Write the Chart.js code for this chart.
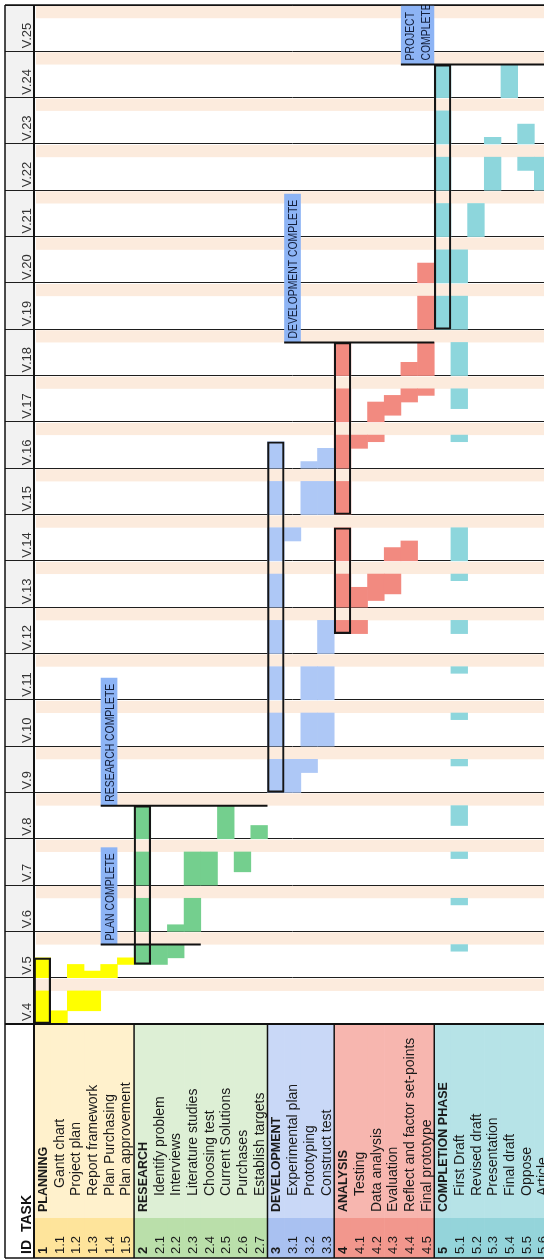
<!DOCTYPE html>
<html>
<head>
<meta charset="utf-8">
<title>Project Gantt chart</title>
<script src="https://cdn.jsdelivr.net/npm/chart.js@4.4.1/dist/chart.umd.min.js"></script>
<style>
  html, body { margin: 0; padding: 0; background: #fff; overflow: hidden; width: 544px; height: 1260px; }
  canvas { display: block; }
</style>
</head>
<body>
<canvas id="gantt" width="551" height="1260" style="width:551px;height:1260px"></canvas>
<script>
// ---- tasks (one column per task) ----
const taskIds = ['1', '1.1', '1.2', '1.3', '1.4', '1.5',
  '2', '2.1', '2.2', '2.3', '2.4', '2.5', '2.6', '2.7',
  '3', '3.1', '3.2', '3.3',
  '4', '4.1', '4.2', '4.3', '4.4', '4.5',
  '5', '5.1', '5.2', '5.3', '5.4', '5.5', '5.6'];
const taskNames = ['PLANNING', 'Gantt chart', 'Project plan', 'Report framework', 'Plan Purchasing', 'Plan approvement',
  'RESEARCH', 'Identify problem', 'Interviews', 'Literature studies', 'Choosing test', 'Current Solutions', 'Purchases', 'Establish targets',
  'DEVELOPMENT', 'Experimental plan', 'Prototyping', 'Construct test',
  'ANALYSIS', 'Testing', 'Data analysis', 'Evaluation', 'Reflect and factor set-points', 'Final prototype',
  'COMPLETION PHASE', 'First Draft', 'Revised draft', 'Presentation', 'Final draft', 'Oppose', 'Article'];

// ---- calendar weeks (time runs upwards) ----
const weekLabels = ['V.4', 'V.5', 'V.6', 'V.7', 'V.8', 'V.9', 'V.10', 'V.11', 'V.12', 'V.13', 'V.14',
  'V.15', 'V.16', 'V.17', 'V.18', 'V.19', 'V.20', 'V.21', 'V.22', 'V.23', 'V.24', 'V.25'];

// ---- work periods: [task, week, first weekday, last weekday]  (1 = Mon ... 5 = Fri) ----
const planningWork = [
  ['1.1', 4, 1, 2],
  ['1.2', 4, 3, 5], ['1.2', 5, 1, 2],
  ['1.3', 4, 3, 5], ['1.3', 5, 1, 1],
  ['1.4', 5, 1, 2],
  ['1.5', 5, 3, 3]
];
const researchWork = [
  ['2.1', 5, 3, 5],
  ['2.2', 5, 4, 5], ['2.2', 6, 1, 1],
  ['2.3', 6, 1, 5], ['2.3', 7, 1, 5],
  ['2.4', 7, 1, 5],
  ['2.5', 8, 1, 5],
  ['2.6', 7, 3, 5],
  ['2.7', 8, 1, 2]
];
const developmentWork = [
  ['3.1', 9, 1, 5], ['3.1', 14, 4, 5],
  ['3.2', 9, 4, 5], ['3.2', 10, 1, 5], ['3.2', 11, 1, 5], ['3.2', 15, 1, 5], ['3.2', 16, 1, 1],
  ['3.3', 10, 1, 5], ['3.3', 11, 1, 5], ['3.3', 12, 1, 5], ['3.3', 15, 1, 5], ['3.3', 16, 1, 3]
];
const analysisWork = [
  ['4.1', 12, 4, 5], ['4.1', 13, 1, 3], ['4.1', 16, 4, 5],
  ['4.2', 13, 2, 5], ['4.2', 16, 5, 5], ['4.2', 17, 1, 3],
  ['4.3', 13, 3, 5], ['4.3', 14, 1, 2], ['4.3', 17, 2, 4],
  ['4.4', 14, 1, 3], ['4.4', 17, 4, 5], ['4.4', 18, 1, 2],
  ['4.5', 17, 5, 5], ['4.5', 18, 1, 5], ['4.5', 19, 1, 5], ['4.5', 20, 1, 3]
];
const completionWork = [
  ['5.1', 5, 5, 5], ['5.1', 6, 5, 5], ['5.1', 7, 5, 5], ['5.1', 8, 3, 5], ['5.1', 9, 5, 5],
  ['5.1', 10, 5, 5], ['5.1', 11, 5, 5], ['5.1', 12, 4, 5], ['5.1', 13, 5, 5], ['5.1', 14, 1, 5],
  ['5.1', 16, 5, 5], ['5.1', 17, 3, 5], ['5.1', 18, 1, 5], ['5.1', 19, 1, 5], ['5.1', 20, 1, 5],
  ['5.2', 21, 1, 5],
  ['5.3', 22, 1, 5], ['5.3', 23, 1, 1],
  ['5.4', 24, 1, 5],
  ['5.5', 22, 4, 5], ['5.5', 23, 1, 3],
  ['5.6', 22, 1, 5]
];

// ---- phase summary spans: [phase, start week, start day, end week, end day] ----
const phaseSpans = [
  ['1', 4, 1, 5, 3],
  ['2', 5, 3, 8, 5],
  ['3', 9, 1, 16, 4],
  ['4', 12, 4, 14, 5],
  ['4', 15, 1, 18, 5],
  ['5', 19, 1, 24, 5]
];

// ---- milestones: [label lines, week (end of Friday), first task, last task under the line] ----
const milestones = [
  [['PLAN COMPLETE'], 5, '1.4', '2.3'],
  [['RESEARCH COMPLETE'], 8, '1.4', '2.7'],
  [['DEVELOPMENT COMPLETE'], 18, '3.1', '4.5'],
  [['PROJECT', 'COMPLETE'], 24, '4.4', '5.6']
];

// ---- styling ----
const phaseWork = [planningWork, researchWork, developmentWork, analysisWork, completionWork];
const barColors = ['#FFFF00', '#74CF8E', '#AEC8F6', '#F28A80', '#8DD6DC'];
const headFill = ['#FFF1CC', '#DDEFD5', '#C9D8F7', '#F7B6AF', '#B6E3E7'];
const idFill = ['#FEE49B', '#BADFAA', '#A9C1F1', '#F2978D', '#94D4DA'];
const FONT = "'Liberation Sans', Arial, sans-serif";

const firstWeek = parseInt(weekLabels[0].slice(2), 10);
const dayAt = (week, day) => (week - firstWeek) * 7 + day;
const workBar = ([id, week, from, to]) => ({ x: id, y: [dayAt(week, from - 1), dayAt(week, to)] });
const phaseOf = id => parseInt(id, 10) - 1;

// summary bars are filled on working days only
function phaseFill(span) {
  const [id, sw, sd, ew, ed] = span;
  const out = [];
  for (let w = sw; w <= ew; w++) {
    out.push(workBar([id, w, w === sw ? sd : 1, w === ew ? ed : 5]));
  }
  return out;
}

const datasets = [{
  label: 'phase outline',
  data: phaseSpans.map(([id, sw, sd, ew, ed]) => ({ x: id, y: [dayAt(sw, sd - 1), dayAt(ew, ed)] })),
  backgroundColor: 'rgba(0,0,0,0)',
  borderColor: '#151515',
  borderWidth: 1.5,
  borderSkipped: false
}];
phaseWork.forEach((list, p) => {
  const summary = phaseSpans.filter(s => phaseOf(s[0]) === p).flatMap(phaseFill);
  datasets.push({
    label: taskNames[taskIds.indexOf(String(p + 1))],
    data: summary.concat(list.map(workBar)),
    backgroundColor: barColors[p],
    borderWidth: 0
  });
});
datasets.forEach(d => Object.assign(d, { grouped: false, barPercentage: 1, categoryPercentage: 1 }));

function upText(ctx, text, baseX, startY, font, color, squeeze) {
  ctx.save();
  ctx.translate(baseX, startY);
  ctx.rotate(-Math.PI / 2);
  if (squeeze) ctx.scale(squeeze, 1);
  ctx.font = font;
  ctx.fillStyle = color;
  ctx.textAlign = 'left';
  ctx.textBaseline = 'alphabetic';
  ctx.fillText(text, 0, 0);
  ctx.restore();
}

// extra indent (px) of task names from the bottom of the header
const nameIndent = id => {
  if (!id.includes('.')) return 0;
  if (id === '1.1') return 24;
  if (['4.2', '4.3', '4.4', '4.5'].includes(id)) return 0;
  return 16;
};

const ganttDecor = {
  id: 'ganttDecor',
  beforeDraw(chart) {
    const { ctx, chartArea: a, scales: { x, y } } = chart;
    const rowW = x.getPixelForValue(1) - x.getPixelForValue(0);
    ctx.save();
    ctx.fillStyle = '#F2F2F2';
    ctx.fillRect(5, a.top, a.left - 5, a.bottom - a.top);
    // weekends
    ctx.fillStyle = '#FCEBDD';
    weekLabels.forEach((_, i) => {
      const yTop = y.getPixelForValue(i * 7 + 7);
      const yBot = y.getPixelForValue(i * 7 + 5);
      ctx.fillRect(a.left + 2, yTop + 1, a.right - a.left - 2, yBot - yTop - 1);
    });
    // task header cells
    const bandTop = x.bottom - 40;
    taskIds.forEach((id, i) => {
      const x0 = x.getPixelForValue(i) - rowW / 2;
      const p = phaseOf(id);
      ctx.fillStyle = headFill[p];
      ctx.fillRect(x0, x.top, rowW + 0.6, bandTop - x.top);
      ctx.fillStyle = idFill[p];
      ctx.fillRect(x0, bandTop, rowW + 0.6, x.bottom - bandTop);
    });
    ctx.restore();
  },
  afterDatasetsDraw(chart) {
    const { ctx, chartArea: a, scales: { x, y } } = chart;
    const rowW = x.getPixelForValue(1) - x.getPixelForValue(0);
    ctx.save();
    milestones.forEach(([lines, week, from, to]) => {
      const xL = x.getPixelForValue(taskIds.indexOf(from)) - rowW / 2;
      const xR = x.getPixelForValue(taskIds.indexOf(to)) + rowW / 2;
      const yLine = y.getPixelForValue(dayAt(week, 5));
      ctx.font = '13px ' + FONT;
      const tw = Math.max(...lines.map(t => ctx.measureText(t).width)) * 0.8;
      const boxTop = Math.max(a.top, yLine - tw - 10);
      const boxW = rowW * lines.length;
      ctx.fillStyle = '#8DB4F5';
      ctx.fillRect(xL, boxTop, boxW, yLine - boxTop);
      ctx.save();
      ctx.beginPath();
      ctx.rect(xL, boxTop, boxW, yLine - boxTop);
      ctx.clip();
      lines.forEach((t, k) => upText(ctx, t, xL + k * rowW + 12.8, yLine - 4, '13px ' + FONT, '#14203D', 0.8));
      ctx.restore();
      ctx.strokeStyle = '#111';
      ctx.lineWidth = 2;
      ctx.beginPath();
      ctx.moveTo(xL, yLine);
      ctx.lineTo(xR, yLine);
      ctx.stroke();
    });
    ctx.restore();
  },
  afterDraw(chart) {
    const { ctx, chartArea: a, scales: { x, y } } = chart;
    const rowW = x.getPixelForValue(1) - x.getPixelForValue(0);
    ctx.save();
    // week labels
    weekLabels.forEach((w, i) => {
      upText(ctx, w, 31, y.getPixelForValue(i * 7) - 3, '13px ' + FONT, '#333');
    });
    // header titles
    upText(ctx, 'ID', 31, x.bottom - 4, 'bold 14px ' + FONT, '#111');
    upText(ctx, 'TASK', 31, x.bottom - 26, 'bold 14px ' + FONT, '#111');
    // task ids and names
    taskIds.forEach((id, i) => {
      const x0 = x.getPixelForValue(i) - rowW / 2;
      const head = !id.includes('.');
      upText(ctx, id, x0 + 13, x.bottom - 4, (head ? 'bold ' : '') + '13px ' + FONT, '#1A1A1A');
      upText(ctx, taskNames[i], x0 + 13, x.bottom - 46 - nameIndent(id),
        (head ? 'bold 12.5px ' : '14px ') + FONT, '#1A1A1A');
    });
    // frame
    ctx.strokeStyle = '#111';
    const line = (x1, y1, x2, y2, w) => {
      ctx.lineWidth = w;
      ctx.beginPath();
      ctx.moveTo(x1, y1);
      ctx.lineTo(x2, y2);
      ctx.stroke();
    };
    line(5, a.top, 5, x.bottom, 1.5);
    line(a.left, a.top, a.left, x.bottom, 2);
    line(5, a.top, a.right, a.top, 1.5);
    line(5, a.bottom, a.right, a.bottom, 2);
    line(5, x.bottom, a.right, x.bottom, 1.5);
    ['2', '3', '4', '5'].forEach(id => {
      const xs = x.getPixelForValue(taskIds.indexOf(id)) - rowW / 2;
      line(xs, a.bottom, xs, x.bottom, 1.5);
    });
    ctx.restore();
  }
};

new Chart(document.getElementById('gantt'), {
  type: 'bar',
  data: { labels: taskIds, datasets },
  options: {
    responsive: false,
    animation: false,
    devicePixelRatio: 1,
    layout: { padding: { left: 5, top: 5, right: 0, bottom: 2 } },
    plugins: { legend: { display: false }, tooltip: { enabled: false } },
    scales: {
      x: {
        type: 'category',
        grid: { display: false },
        border: { display: false },
        ticks: { display: false },
        afterFit: s => { s.height = 234; }
      },
      y: {
        type: 'linear',
        min: 0,
        max: weekLabels.length * 7,
        grid: { color: '#1E1E1E', lineWidth: 1, drawTicks: true, tickLength: 29 },
        border: { display: false },
        ticks: { display: false },
        afterBuildTicks: s => { s.ticks = weekLabels.concat(['']).map((_, i) => ({ value: i * 7 })); },
        afterFit: s => { s.width = 29; }
      }
    }
  },
  plugins: [ganttDecor]
});
</script>
</body>
</html>
